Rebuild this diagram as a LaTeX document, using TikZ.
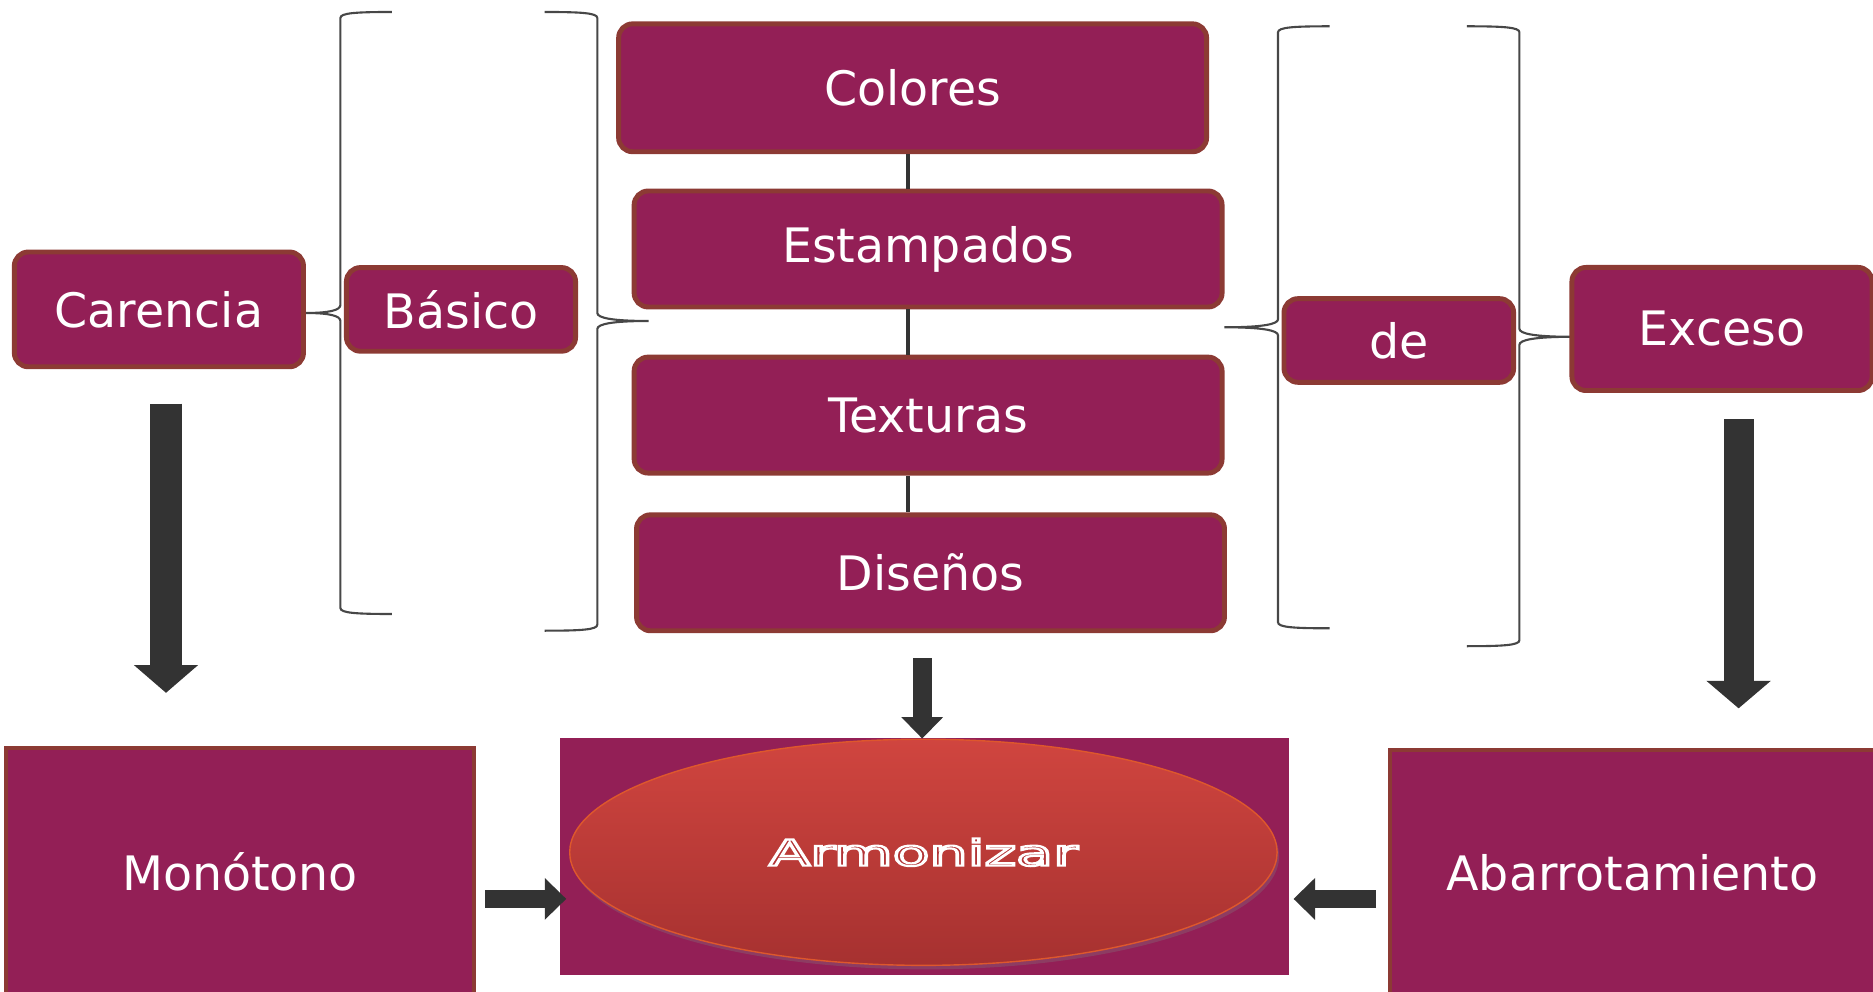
\documentclass[tikz,border=0pt]{standalone}
\usepackage{fontspec}
\setmainfont{DejaVu Sans}
\usetikzlibrary{shapes.geometric,arrows.meta,shadows}

\definecolor{vino}{HTML}{931F56}
\definecolor{borde}{HTML}{8C3A34}
\definecolor{gris}{HTML}{333333}
\definecolor{rojoalto}{HTML}{D0453F}
\definecolor{rojobajo}{HTML}{A63130}
\definecolor{letra}{HTML}{B23436}

% outlined text (white stroke, coloured fill)
\newcommand{\hueco}[1]{{\color{letra}\special{pdf:literal direct 2 Tr 1 1 1 RG 0.6 w}#1\special{pdf:literal direct 0 Tr}}}

\tikzset{
  caja/.style={draw=borde, line width=1.4pt, fill=vino, rounded corners=0.14cm,
    inner sep=0pt, text=white, font=\fontsize{13.5}{16}\selectfont},
  marco/.style={draw=borde, line width=1.2pt, fill=vino, inner sep=0pt,
    text=white, font=\fontsize{13.5}{16}\selectfont},
  llave/.style={draw=gris!90, line width=0.6pt},
  enlace/.style={draw=gris, line width=1.1pt},
  flecha/.style n args={3}{draw=gris, line width=#1,
    -{Triangle[width=#2, length=#3, line width=0pt]}},
}

% brace: vertical x, end x, top y, tip y, bottom y, tip x
\newcommand{\llave}[6]{%
  \draw[llave] (#2,#3) .. controls ({#1+0.3*(#2-#1)},#3) and (#1,{#3+1}) .. (#1,{#3+6})
    -- (#1,{#4-8}) .. controls (#1,{#4-3}) and ({#1+0.3*(#6-#1)},#4) .. (#6,#4)
    .. controls ({#1+0.3*(#6-#1)},#4) and (#1,{#4+3}) .. (#1,{#4+8})
    -- (#1,{#5-6}) .. controls (#1,{#5-1}) and ({#1+0.3*(#2-#1)},#5) .. (#2,#5);}

\begin{document}
\begin{tikzpicture}[x=0.01cm, y=-0.01cm]

\useasboundingbox (0,0) rectangle (1873,992);

% BRACES
\llave{340.4}{391.8}{12}{313}{614}{305.8}
\llave{597.3}{544.7}{12}{321}{630.7}{648.6}
\llave{1278}{1329.5}{26.3}{327.3}{628.3}{1224.4}
\llave{1519.4}{1466.8}{26.3}{336.8}{646.2}{1572}

% TOP ROW
\node[caja, minimum width=2.89cm, minimum height=1.147cm] (carencia) at (158.9,309.4) {Carencia};
\node[caja, minimum width=2.29cm, minimum height=0.836cm] (basico) at (461,309.4) {Básico};
\node[caja, minimum width=5.876cm, minimum height=1.278cm] (colores) at (912.6,87.8) {Colores};
\node[caja, minimum width=5.876cm, minimum height=1.159cm] (estampados) at (928.1,249) {Estampados};
\node[caja, minimum width=5.876cm, minimum height=1.159cm] (texturas) at (928.1,415.1) {Texturas};
\node[caja, minimum width=5.876cm, minimum height=1.159cm] (disenos) at (930.5,572.8) {Diseños};
\node[caja, minimum width=2.295cm, minimum height=0.836cm] (de) at (1398.8,340.5) {de};
\node[caja, minimum width=3.0cm, minimum height=1.23cm] (exceso) at (1722,329) {Exceso};

\coordinate (eje) at (907.8,0);
\draw[enlace] (colores.south -| eje) -- (estampados.north -| eje);
\draw[enlace] (estampados.south -| eje) -- (texturas.north -| eje);
\draw[enlace] (texturas.south -| eje) -- (disenos.north -| eje);

% BOTTOM ROW
\node[marco, minimum width=4.68cm, minimum height=2.47cm] (monotono) at (240,871.5) {Monótono};
\node[fill=vino, inner sep=0pt, minimum width=7.29cm, minimum height=2.37cm] (fondo) at (924.5,856.5) {};
\node[ellipse, draw=rojoalto!70!orange, line width=0.4pt, top color=rojoalto, bottom color=rojobajo,
  minimum width=7.07cm, minimum height=2.26cm,
  drop shadow={opacity=0.3, shadow xshift=0.02cm, shadow yshift=-0.04cm}] (armonizar) at (923.4,852.3)
  {\fontsize{10.2}{12}\selectfont\scalebox{1.68}[1]{\hueco{Armonizar}}};
\node[marco, minimum width=4.85cm, minimum height=2.45cm] (abarrotamiento) at (1632.5,872.5) {Abarrotamiento};

% ARROWS
\coordinate (car-ini) at (166,403.7);
\coordinate (car-fin) at (166,692.8);
\coordinate (exc-ini) at (1738.6,419.3);
\coordinate (exc-fin) at (1738.6,708.3);
\coordinate (dis-ini) at (922.2,658.2);
\coordinate (mon-ini) at (485,898.9);
\coordinate (mon-fin) at (566.2,898.9);
\coordinate (aba-ini) at (1376,898.9);
\coordinate (aba-fin) at (1293.6,898.9);
\draw[flecha={8.85pt}{18.3pt}{7.9pt}] (car-ini) -- (car-fin);
\draw[flecha={8.5pt}{18.3pt}{7.8pt}] (exc-ini) -- (exc-fin);
\draw[flecha={5.4pt}{11.9pt}{6.1pt}] (dis-ini) -- (dis-ini |- armonizar.north);
\draw[flecha={5.1pt}{11.9pt}{6.1pt}] (mon-ini) -- (mon-fin);
\draw[flecha={5.1pt}{11.9pt}{6.1pt}] (aba-ini) -- (aba-fin);

\end{tikzpicture}
\end{document}
